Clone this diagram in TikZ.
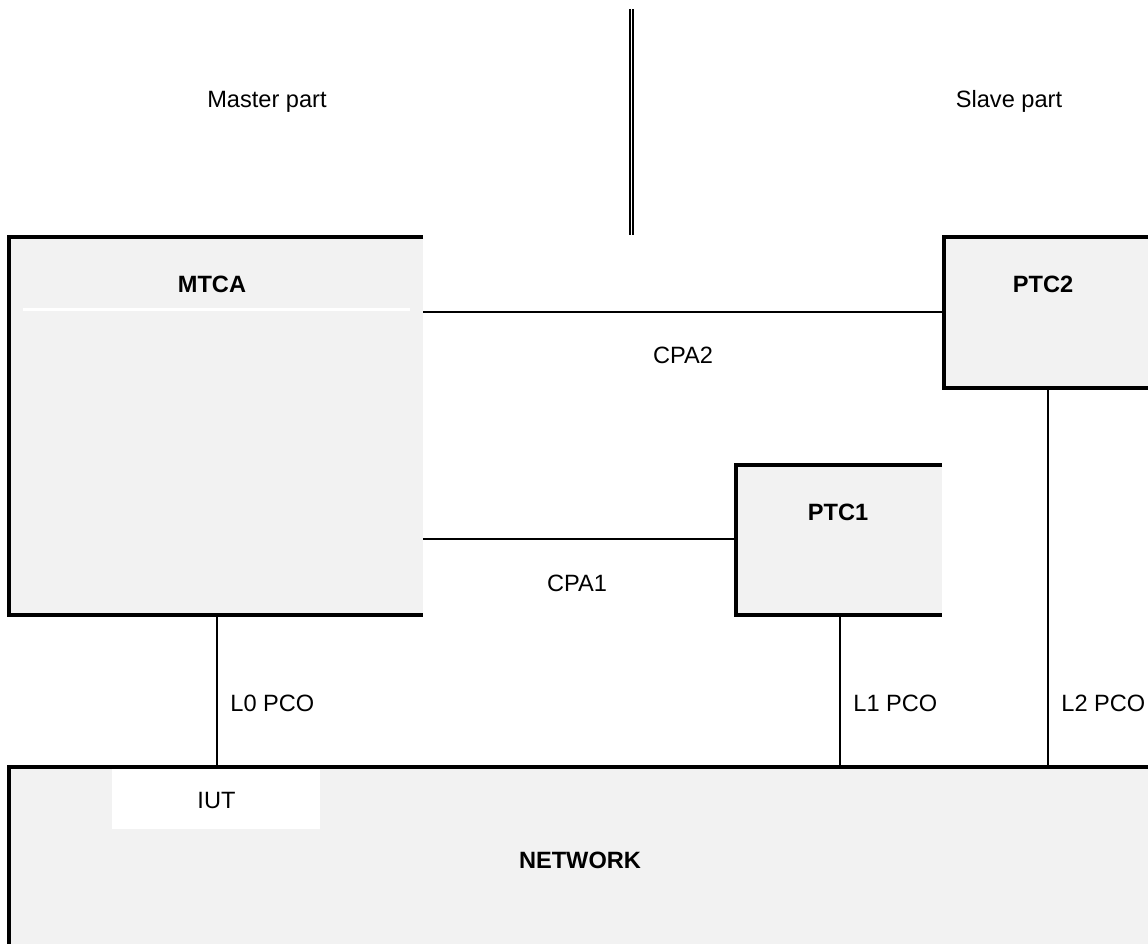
\documentclass[tikz,border=0pt]{standalone}
\usepackage{fontspec}
\setmainfont{Liberation Sans}
\definecolor{boxgray}{HTML}{F2F2F2}
\begin{document}
\begin{tikzpicture}[x=0.5pt,y=-0.5pt,
  boxfill/.style={fill=boxgray, draw=none, inner sep=0pt, outer sep=0pt, anchor=north west},
  border/.style={line width=2pt, line join=miter, line cap=butt},
  conn/.style={line width=1pt},
  lbl/.style={inner sep=0pt, anchor=base, font=\fontsize{11.8}{14}\selectfont},
  blbl/.style={lbl, font=\fontsize{11.8}{14}\selectfont\bfseries},
  llbl/.style={inner sep=0pt, anchor=base west, font=\fontsize{11.8}{14}\selectfont}]
\useasboundingbox (0,0) rectangle (1148,944);
% boxes
\node[boxfill, minimum width=207pt, minimum height=189pt] (mtca) at (9,237) {};
\node[boxfill, minimum width=102pt, minimum height=75.5pt] (ptc2) at (944,237) {};
\node[boxfill, minimum width=103pt, minimum height=75pt] (ptc1) at (736,465) {};
\node[boxfill, minimum width=569.5pt, minimum height=88.5pt] (net) at (9,767) {};
\node[fill=white, inner sep=0pt, outer sep=0pt, anchor=north west, minimum width=104pt, minimum height=30pt] (iutbox) at (112,769) {};
% borders (left, top, bottom)
\draw[border] (mtca.north east) -- (mtca.north west) -- (mtca.south west) -- (mtca.south east);
\draw[border] (ptc2.north east) -- (ptc2.north west) -- (ptc2.south west) -- (ptc2.south east);
\draw[border] (ptc1.north east) -- (ptc1.north west) -- (ptc1.south west) -- (ptc1.south east);
\draw[border] (net.north east) -- (net.north west) -- (net.south west);
% white separator in MTCA
\coordinate (sepA) at (23,309.5);
\coordinate (sepB) at (410,309.5);
\draw[white, line width=1.5pt] (sepA) -- (sepB);
% divider double line
\coordinate (dtop) at (631.5,9);
\coordinate (dbot) at (631.5,235);
\draw[line width=1pt, double distance=0.6pt] (dtop) -- (dbot);
% connectors
\draw[conn] (mtca.east |- 0,312) -- (ptc2.west |- 0,312);
\draw[conn] (mtca.east |- 0,539) -- (ptc1.west |- 0,539);
\draw[conn] (mtca.south -| 217,0) -- (net.north -| 217,0);
\draw[conn] (ptc1.south -| 839.5,0) -- (net.north -| 839.5,0);
\draw[conn] (ptc2.south -| 1048,0) -- (net.north -| 1048,0);
% labels
\node[lbl] (master) at (267,107) {Master part};
\node[lbl] (slave) at (1009,107) {Slave part};
\node[blbl] (mtcal) at (212,292) {MTCA};
\node[blbl] (ptc2l) at (1043,292) {PTC2};
\node[blbl] (ptc1l) at (838,520) {PTC1};
\node[lbl] (cpa2) at (683,363) {CPA2};
\node[lbl] (cpa1) at (577,591) {CPA1};
\node[llbl] (l0) at (230,711) {L0 PCO};
\node[llbl] (l1) at (853,711) {L1 PCO};
\node[llbl] (l2) at (1061,711) {L2 PCO};
\node[lbl] (iut) at (216.5,808) {IUT};
\node[blbl] (netl) at (580,868) {NETWORK};
\end{tikzpicture}
\end{document}
